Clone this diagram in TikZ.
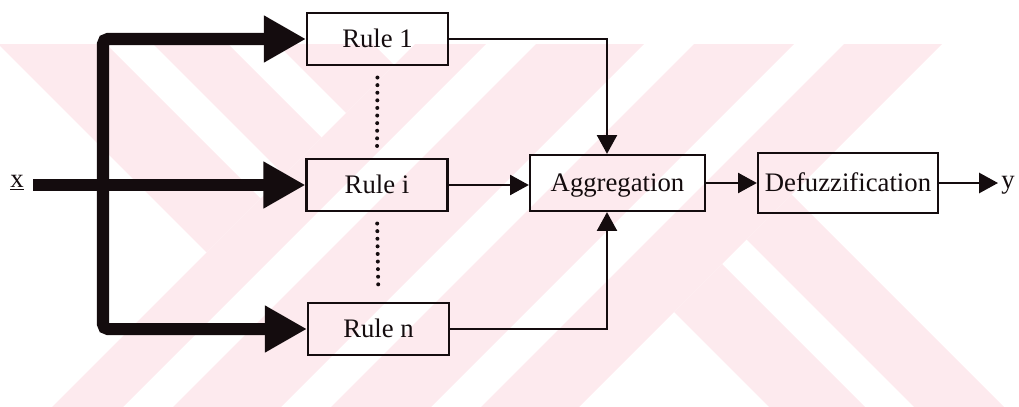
\documentclass[tikz,border=0pt]{standalone}
\usepackage{fontspec}
\setmainfont{Liberation Serif}
\usetikzlibrary{arrows.meta}
\definecolor{ink}{RGB}{20,12,14}
\definecolor{wmark}{RGB}{253,234,238}
\begin{document}
\begin{tikzpicture}[x=0.025cm,y=-0.025cm,
  every node/.style={font=\fontsize{19}{22}\selectfont, text=ink},
  box/.style={draw=ink, line width=1.6pt, inner sep=0pt, text height=12.5pt, text depth=0pt},
  rulebox/.style={box, minimum width=3.52cm, minimum height=1.31cm},
  flow/.style={draw=ink, line width=1.6pt, -{Triangle[length=0.47cm,width=0.5cm]}},
  bus/.style={draw=ink, line width=0.3cm, rounded corners=0.12cm, -{Triangle[length=1.05cm,width=1.1cm]}},
  dotline/.style={draw=ink, line width=0.1cm, line cap=round, dash pattern=on 0pt off 0.19cm, shorten <=0.28cm, shorten >=0.28cm}]
\useasboundingbox (0,0) rectangle (1019,407);

% pale background stripes
\begin{scope}
  \clip (0,45) rectangle (1019,407);
  % falling stripes, upper left part
  \begin{scope}
    \clip (-1000,-1000) -- (1459,-1000) -- (-541,1000) -- (-1000,1000) -- cycle;
    \foreach \a/\b in {-46/62, 109/184, 233/329}
      \fill[wmark] (\a-100,-100) -- (\b-100,-100) -- (\b+600,600) -- (\a+600,600) -- cycle;
  \end{scope}
  % rising stripes, middle part
  \foreach \a/\b in {459/530, 580/688, 738/838, 888/986}
    \fill[wmark] (\a+100,-100) -- (\b+100,-100) -- (\b-600,600) -- (\a-600,600) -- cycle;
  % falling stripes, lower right part
  \begin{scope}
    \clip (1986,-1000) -- (3000,-1000) -- (3000,1000) -- (-14,1000) -- cycle;
    \foreach \a/\b in {362/458, 507/597}
      \fill[wmark] (\a-100,-100) -- (\b-100,-100) -- (\b+600,600) -- (\a+600,600) -- cycle;
  \end{scope}
\end{scope}

% blocks
\node[rulebox] (r1) at (377.5,39) {Rule 1};
\node[rulebox] (ri) at (377,185) {Rule i};
\node[rulebox] (rn) at (378.5,329) {Rule n};
\node[box, minimum width=4.375cm, minimum height=1.4cm] (agg) at (617.5,183) {Aggregation};
\node[box, minimum width=4.5cm, minimum height=1.5cm] (defuzz) at (848,183) {Defuzzification};

% input and output labels
\node[anchor=base west, inner sep=0pt] (xlab) at (10,187) {\underline{x}};
\node[anchor=base west, inner sep=0pt] (ylab) at (1001,188) {y};

% helper points
\coordinate (xin) at (33,185);
\coordinate (jx) at (103,0);
\coordinate (aggx) at (607,0);
\coordinate (yout) at (998,183);

% input bus to the rules
\draw[bus] (xin) -- (ri.west);
\draw[bus] (jx |- ri.west) |- (r1.west);
\draw[bus] (jx |- ri.west) |- (rn.west);

% dotted continuation between rules
\draw[dotline] (r1.south) -- (ri.north);
\draw[dotline] (ri.south) -- (rn.north);

% rule outputs into aggregation
\draw[flow] (r1.east) -| (aggx |- agg.north);
\draw[flow] (ri.east) -- (agg.west |- ri.east);
\draw[flow] (rn.east) -| (aggx |- agg.south);

% aggregation to output
\draw[flow] (agg.east) -- (defuzz.west);
\draw[flow] (defuzz.east) -- (yout);
\end{tikzpicture}
\end{document}
